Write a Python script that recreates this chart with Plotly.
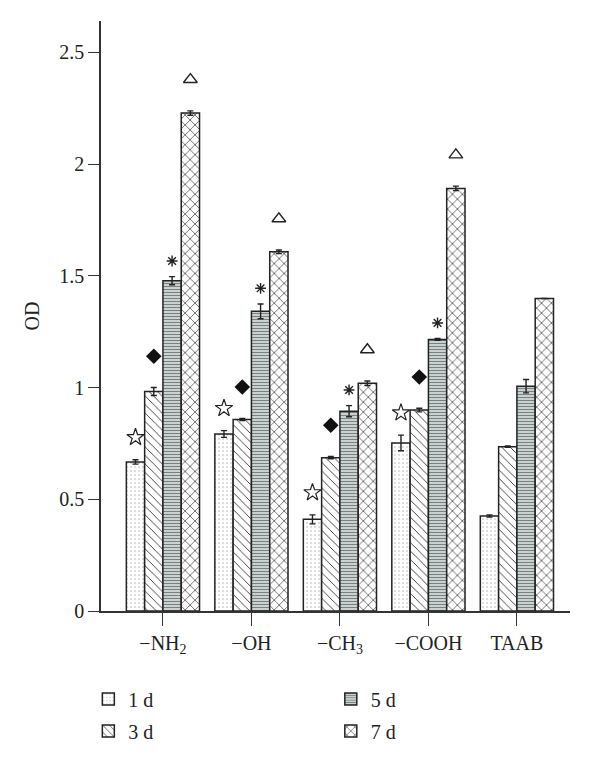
import plotly.graph_objects as go

categories = ["−NH<sub>2</sub>", "−OH", "−CH<sub>3</sub>", "−COOH", "TAAB"]
series_names = ["1 d", "3 d", "5 d", "7 d"]

od_1d = [0.667, 0.792, 0.410, 0.752, 0.425]
od_3d = [0.982, 0.857, 0.686, 0.899, 0.735]
od_5d = [1.478, 1.341, 0.894, 1.215, 1.006]
od_7d = [2.228, 1.607, 1.019, 1.891, 1.398]

err_1d = [0.010, 0.015, 0.020, 0.035, 0.005]
err_3d = [0.018, 0.005, 0.005, 0.008, 0.003]
err_5d = [0.018, 0.033, 0.025, 0.004, 0.030]
err_7d = [0.010, 0.008, 0.010, 0.010, 0.000]

# significance marks shown above each bar (True = mark present)
sig_1d = [True, True, True, True, False]   # star
sig_3d = [True, True, True, True, False]   # diamond
sig_5d = [True, True, True, True, False]   # asterisk
sig_7d = [True, True, True, True, False]   # triangle

values = [od_1d, od_3d, od_5d, od_7d]
errors = [err_1d, err_3d, err_5d, err_7d]
sigs = [sig_1d, sig_3d, sig_5d, sig_7d]

x_pos = list(range(len(categories)))
BARGAP = 0.173
bar_w = (1 - BARGAP) / 4

patterns = [
    dict(shape=".", size=4, solidity=0.12, fgcolor="#b0b0b0", bgcolor="white", fillmode="replace"),
    dict(shape="\\", size=6, solidity=0.15, fgcolor="#333333", bgcolor="white", fillmode="replace"),
    dict(shape="-", size=3, solidity=0.4, fgcolor="#7a8080", bgcolor="#d3dada", fillmode="replace"),
    dict(shape="x", size=7, solidity=0.17, fgcolor="#222222", bgcolor="white", fillmode="replace"),
]
legend_ids = ["legend", "legend", "legend2", "legend2"]

fig = go.Figure()
for k in range(4):
    fig.add_trace(go.Bar(
        x=x_pos, y=values[k], name=series_names[k],
        marker=dict(color="white", pattern=patterns[k], line=dict(color="#222222", width=1.5)),
        error_y=dict(type="data", array=errors[k], visible=True, color="#222222", thickness=1.4, width=3),
        legend=legend_ids[k], legendgroup=series_names[k],
    ))

mark_styles = [
    dict(symbol="star-open", size=13, color="#222222", line=dict(width=1.2, color="#222222")),
    dict(symbol="diamond", size=12, color="#111111", line=dict(width=0)),
    dict(symbol="asterisk-open", size=9, color="#222222", line=dict(width=1.4, color="#222222")),
    dict(symbol="triangle-up-open", size=12, color="#222222", line=dict(width=1.4, color="#222222")),
]
pads = [0.10, 0.14, 0.07, 0.14]

for k in range(4):
    xs, ys = [], []
    for i in x_pos:
        if sigs[k][i]:
            xs.append(i + (k - 1.5) * bar_w)
            ys.append(values[k][i] + errors[k][i] + pads[k])
    fig.add_trace(go.Scatter(x=xs, y=ys, mode="markers", marker=mark_styles[k],
                             showlegend=False, hoverinfo="skip"))

font_family = "Liberation Serif, Times New Roman, serif"
axis_color = "#333333"
FS = 20

fig.update_layout(
    width=600, height=767,
    margin=dict(l=101, r=30, t=21, b=156, autoexpand=False),
    paper_bgcolor="white", plot_bgcolor="white",
    barmode="group", bargap=BARGAP, bargroupgap=0,
    font=dict(family=font_family, size=FS, color="#222222"),
    xaxis=dict(
        range=[-0.70, 4.60], tickmode="array", tickvals=x_pos, ticktext=categories,
        showline=True, linecolor=axis_color, linewidth=1.5,
        ticks="outside", ticklen=13, tickwidth=1.3, tickcolor=axis_color,
        showgrid=False, zeroline=False, tickfont=dict(size=FS),
    ),
    yaxis=dict(
        range=[0, 2.64], tickmode="array", tickvals=[0, 0.5, 1, 1.5, 2, 2.5],
        ticktext=["0", "0.5", "1", "1.5", "2", "2.5"],
        showline=True, linecolor=axis_color, linewidth=1.5,
        ticks="outside", ticklen=11, tickwidth=1.3, tickcolor=axis_color,
        showgrid=False, zeroline=False, tickfont=dict(size=FS),
        title=dict(text="OD", font=dict(size=FS), standoff=14),
    ),
    legend=dict(x=-0.027, y=-0.116, xanchor="left", yanchor="top", orientation="v",
                tracegroupgap=3, font=dict(size=FS), bgcolor="rgba(0,0,0,0)"),
    legend2=dict(x=0.49, y=-0.116, xanchor="left", yanchor="top", orientation="v",
                 tracegroupgap=3, font=dict(size=FS), bgcolor="rgba(0,0,0,0)"),
)

fig.write_html("out.html", config={"displayModeBar": False},
               post_script="document.body.style.margin='0';document.body.style.overflow='hidden';")
